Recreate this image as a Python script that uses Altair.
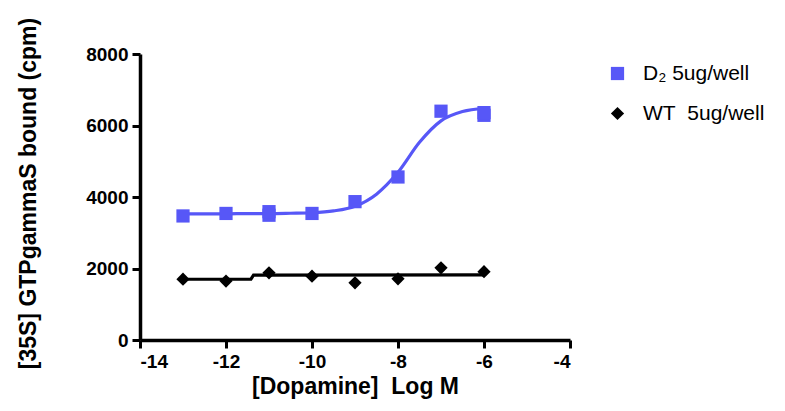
import altair as alt
import pandas as pd

# Measured points (replicates at -11 and -6 overlap)
d2_x = [-13, -12, -11, -11, -10, -9, -8, -7, -6, -6]
d2_y = [3470, 3540, 3490, 3590, 3540, 3870, 4560, 6400, 6285, 6360]
wt_x = [-13, -12, -11, -10, -9, -8, -7, -6]
wt_y = [1700, 1650, 1880, 1785, 1600, 1710, 2020, 1910]

# Fitted curves
d2_fit_x = [-13, -12.5, -12, -11.5, -11, -10.5, -10, -9.5, -9, -8.5, -8, -7.5, -7, -6.5, -6]
d2_fit_y = [3530, 3530, 3530, 3535, 3535, 3545, 3560, 3610, 3740, 4080, 4690, 5530, 6130, 6390, 6480]
wt_fit_x = [-13, -11.42, -11.36, -6]
wt_fit_y = [1700, 1705, 1815, 1822]

x_ticks = [-14, -12, -10, -8, -6, -4]
y_ticks = [0, 2000, 4000, 6000, 8000]

s_d2 = "D\u2082 5ug/well"
s_wt = "WT\u00a0 5ug/well"
series_names = [s_d2, s_wt]
series_colors = ["#5757F7", "#000000"]
series_shapes = ["square", "diamond"]

pts = pd.DataFrame({
    "x": d2_x + wt_x,
    "y": d2_y + wt_y,
    "s": [s_d2] * len(d2_x) + [s_wt] * len(wt_x),
})
fit_d2 = pd.DataFrame({"x": d2_fit_x, "y": d2_fit_y})
fit_wt = pd.DataFrame({"x": wt_fit_x, "y": wt_fit_y})

FONT = "Liberation Sans"

xscale = alt.Scale(domain=[-14, -4], nice=False, zero=False)
yscale = alt.Scale(domain=[0, 8000], nice=False)

xaxis = alt.Axis(
    values=x_ticks, labelExpr="'' + datum.value",
    title="[Dopamine]\u00a0\u00a0Log M", titleX=215, titleY=46,
    titleBaseline="middle", titleAlign="center", titleFontSize=23,
)
yaxis = alt.Axis(
    values=y_ticks, labelExpr="'' + datum.value",
    title="[35S] GTPgammaS bound (cpm)", titleX=-112, titleY=139,
    titleBaseline="middle", titleAlign="center", titleAngle=-90, titleFontSize=23,
)

line_d2 = alt.Chart(fit_d2).mark_line(
    color=series_colors[0], strokeWidth=3.2, interpolate="monotone"
).encode(x=alt.X("x:Q", scale=xscale, axis=xaxis), y=alt.Y("y:Q", scale=yscale, axis=yaxis))

line_wt = alt.Chart(fit_wt).mark_line(
    color=series_colors[1], strokeWidth=3.2
).encode(x=alt.X("x:Q", scale=xscale), y=alt.Y("y:Q", scale=yscale))

points = alt.Chart(pts).mark_point(filled=True, opacity=1, size=175).encode(
    x=alt.X("x:Q", scale=xscale),
    y=alt.Y("y:Q", scale=yscale),
    color=alt.Color("s:N", scale=alt.Scale(domain=series_names, range=series_colors),
                    legend=alt.Legend(title=None, orient="none", legendX=467, legendY=9)),
    shape=alt.Shape("s:N", scale=alt.Scale(domain=series_names, range=series_shapes),
                    legend=alt.Legend(title=None, orient="none", legendX=467, legendY=9)),
)

chart = alt.layer(line_d2, line_wt, points).properties(
    width=430, height=286,
    autosize=alt.AutoSizeParams(type="none"),
    padding={"left": 132, "top": 46, "right": 207, "bottom": 63},
).configure_view(stroke=None).configure_axis(
    grid=False,
    domainColor="black", domainWidth=3.5,
    tickColor="black", tickWidth=3, tickSize=8,
    labelFont=FONT, labelFontSize=19, labelFontWeight="bold", labelColor="black",
    labelPadding=4,
    titleFont=FONT, titleFontWeight="bold", titleColor="black",
).configure_legend(
    labelFont=FONT, labelFontSize=21, labelColor="black",
    symbolSize=175, symbolStrokeWidth=0, rowPadding=18, labelOffset=15,
    padding=0, labelLimit=300,
)

chart.save("out.html", embed_options={"renderer": "svg", "actions": False})
